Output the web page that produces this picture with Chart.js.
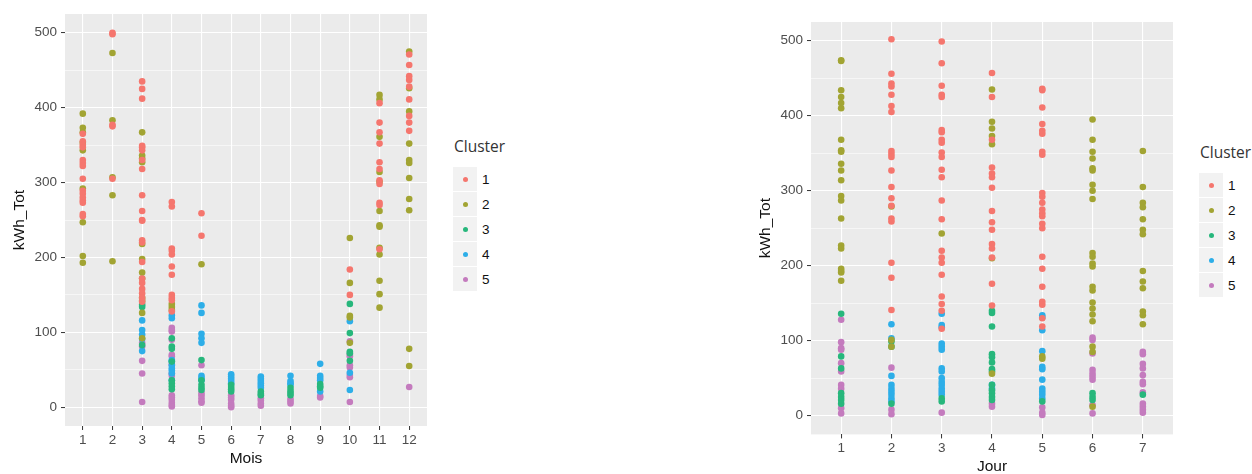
<!DOCTYPE html>
<html lang="fr">
<head>
<meta charset="UTF-8" />
<title>kWh_Tot par Mois et par Jour</title>
<script src="https://cdn.jsdelivr.net/npm/chart.js"></script>
<style>
  html, body { margin: 0; padding: 0; background: #fff; width: 1252px; height: 474px; overflow: hidden; position: relative; }
  canvas { position: absolute; top: 0; }
  #moisChart { left: 0; }
  #jourChart { left: 750px; }
  .legend { position: absolute; font-family: 'Liberation Sans', Arial, sans-serif; }
  .legend .title { font-family: 'Open Sans', sans-serif; font-size: 15.5px; color: #333; margin-bottom: 10px; margin-left: 1px; }
  .legend .row { display: flex; align-items: center; height: 24px; margin-bottom: 1px; }
  .legend .key { width: 24px; height: 24px; background: #f2f2f2; display: flex; align-items: center; justify-content: center; }
  .legend .dot { width: 5px; height: 5px; border-radius: 50%; }
  .legend .lab { font-size: 13.5px; color: #111; margin-left: 5px; }
</style>
</head>
<body>
<canvas id="moisChart" width="440" height="474"></canvas>
<canvas id="jourChart" width="440" height="480"></canvas>
<div class="legend" id="legendMois" style="left:453px; top:135px;"></div>
<div class="legend" id="legendJour" style="left:1199px; top:141px;"></div>
<script>
const clusters = ['1', '2', '3', '4', '5'];
const clusterColors = ['#F5766E', '#A2A433', '#27B77C', '#2DAEE8', '#C47BBE'];

const moisLabels = ['1', '2', '3', '4', '5', '6', '7', '8', '9', '10', '11', '12'];
const jourLabels = ['1', '2', '3', '4', '5', '6', '7'];
const yTicks = [0, 100, 200, 300, 400, 500];

// kWh_Tot par mois, une liste par mois (1..12) pour chaque cluster
const moisCluster1 = [
  [365, 355, 350, 347, 330, 326, 322, 305, 289, 285, 280, 276, 273, 258, 255],
  [500, 498, 377, 375, 305],
  [435, 425, 412, 349, 347, 343, 330, 318, 283, 262, 250, 249, 223, 220, 194, 172, 166, 158, 152, 146, 141],
  [274, 268, 212, 209, 204, 188, 177, 150, 146, 143, 128],
  [259, 229],
  [], [], [], [],
  [184, 150],
  [406, 380, 367, 352, 327, 318, 303, 298, 273, 270, 211],
  [471, 457, 442, 437, 428, 411, 389, 380, 369]
];
const moisCluster2 = [
  [392, 373, 367, 353, 343, 292, 247, 202, 193],
  [473, 383, 307, 283, 195],
  [367, 336, 332, 327, 218, 198, 180, 172, 146, 142, 126, 92],
  [138, 134, 130],
  [191],
  [], [], [], [],
  [226, 166, 122, 120, 86],
  [417, 411, 361, 314, 301, 262, 243, 241, 213, 204, 169, 151, 133],
  [475, 426, 395, 352, 330, 326, 306, 278, 263, 78, 55]
];
const moisCluster3 = [
  [], [],
  [137, 134, 83],
  [92, 81, 78, 61, 36, 32, 28, 24],
  [63, 36, 30, 26, 23],
  [30, 27, 24, 21],
  [21, 18, 16],
  [26, 22, 19, 16],
  [31, 28, 26],
  [138, 99, 74, 72, 62],
  [], []
];
const moisCluster4 = [
  [], [],
  [116, 103, 97, 91, 75],
  [123, 119, 63, 61, 56, 52, 49, 45, 36],
  [136, 126, 98, 92, 86, 42, 39, 36],
  [44, 41, 38, 35, 32],
  [41, 38, 35, 32, 29, 26],
  [42, 35, 32, 30],
  [58, 42, 39, 36, 21],
  [115, 46, 23],
  [], []
];
const moisCluster5 = [
  [], [],
  [86, 81, 62, 45, 7],
  [106, 103, 101, 90, 70, 68, 57, 45, 42, 16, 13, 10, 6, 3, 1],
  [56, 19, 16, 12, 8, 6],
  [16, 13, 10, 5, 2, 0],
  [12, 9, 5, 2],
  [11, 8, 5],
  [15, 13],
  [88, 70, 68, 56, 53, 43, 40, 7],
  [],
  [27]
];

// kWh_Tot par jour de la semaine (1..7) pour chaque cluster
const jourCluster1 = [
  [],
  [502, 456, 443, 439, 428, 413, 405, 353, 349, 345, 327, 305, 290, 280, 263, 259, 204, 184, 141],
  [499, 470, 440, 428, 425, 381, 378, 368, 364, 351, 345, 328, 318, 287, 262, 220, 211, 204, 188, 159, 149, 140, 116],
  [457, 425, 368, 331, 323, 318, 304, 273, 258, 248, 229, 223, 211, 176, 147],
  [436, 434, 411, 389, 380, 376, 352, 348, 297, 292, 284, 275, 270, 266, 256, 250, 212, 196, 172, 152, 148, 130, 119],
  [],
  []
];
const jourCluster2 = [
  [474, 473, 434, 425, 417, 410, 368, 354, 352, 336, 327, 314, 293, 287, 263, 227, 223, 196, 193, 191, 180],
  [279, 101, 92],
  [243],
  [435, 392, 383, 373, 362, 210, 56],
  [79, 76],
  [395, 368, 352, 343, 330, 327, 308, 300, 289, 217, 212, 203, 199, 172, 167, 151, 143, 135, 126, 92, 85, 12],
  [353, 305, 284, 278, 262, 248, 242, 193, 179, 170, 139, 134, 122]
];
const jourCluster3 = [
  [136, 79, 63, 30, 25, 21, 16],
  [99, 92, 16],
  [23, 19],
  [140, 137, 119, 82, 78, 71, 62, 59, 41, 34, 30, 25, 21],
  [19],
  [30, 25, 21],
  [28]
];
const jourCluster4 = [
  [],
  [122, 103, 53, 41, 36, 32, 28, 23, 19],
  [136, 121, 118, 96, 92, 88, 63, 59, 50, 45, 41, 36, 32, 28],
  [41, 36],
  [134, 131, 114, 86, 65, 62, 48, 36, 32, 28, 23],
  [],
  []
];
const jourCluster5 = [
  [128, 98, 90, 88, 70, 59, 41, 36, 10, 3],
  [64, 8, 2],
  [4],
  [16, 12],
  [11, 4, 1],
  [104, 101, 83, 61, 56, 52, 48, 14, 3],
  [85, 82, 69, 63, 54, 45, 42, 31, 16, 12, 8, 4]
];

function toPoints(cols) {
  const pts = [];
  cols.forEach((vals, i) => vals.forEach(v => pts.push({ x: i + 1, y: v })));
  return pts;
}

const panelBg = {
  id: 'panelBg',
  beforeDraw(chart) {
    const { ctx, chartArea: a } = chart;
    ctx.save();
    ctx.fillStyle = '#EBEBEB';
    ctx.fillRect(a.left, a.top, a.right - a.left, a.bottom - a.top);
    ctx.restore();
  }
};

const tickFont = { family: "'Liberation Sans', Arial, sans-serif", size: 13.5 };
const titleFont = { family: "'Liberation Sans', Arial, sans-serif", size: 15.5 };

function makeChart(id, labels, series, xTitle, box) {
  const datasets = series.map((cols, i) => ({
    label: clusters[i],
    data: toPoints(cols),
    backgroundColor: clusterColors[i],
    borderWidth: 0,
    pointRadius: 3.3,
    pointHoverRadius: 3.3
  }));

  return new Chart(document.getElementById(id), {
    type: 'scatter',
    data: { datasets },
    plugins: [panelBg],
    options: {
      responsive: false,
      animation: false,
      devicePixelRatio: 1,
      events: [],
      layout: { padding: { top: box.top, right: box.right, left: 0, bottom: 0 } },
      plugins: { legend: { display: false }, tooltip: { enabled: false } },
      scales: {
        x: {
          type: 'linear',
          min: 0.4,
          max: labels.length + 0.6,
          afterBuildTicks: s => { s.ticks = labels.map((l, i) => ({ value: i + 1 })); },
          afterFit: s => { s.height = box.xh; },
          border: { display: false },
          grid: { color: '#ffffff', lineWidth: 1.1, tickLength: 4, tickColor: '#333333', tickWidth: 1 },
          ticks: {
            callback: (v) => labels[Math.round(v) - 1],
            color: '#4D4D4D', font: tickFont, padding: 2, maxRotation: 0, autoSkip: false
          },
          title: { display: true, text: xTitle, color: '#111', font: titleFont, padding: { top: 0, bottom: box.xtp } }
        },
        y: {
          min: -25,
          max: 525,
          afterBuildTicks: s => {
            const t = [];
            for (let v = 0; v <= 500; v += 50) t.push({ value: v });
            s.ticks = t;
          },
          afterFit: s => { s.width = box.yw; },
          border: { display: false },
          grid: {
            color: '#ffffff',
            lineWidth: c => (c.tick && c.tick.value % 100 === 0 ? 1.1 : 0.55),
            tickLength: 4,
            tickColor: c => (c.tick && c.tick.value % 100 === 0 ? '#333333' : 'rgba(0,0,0,0)'),
            tickWidth: 1
          },
          ticks: {
            callback: (v) => (yTicks.includes(v) ? String(v) : ''),
            color: '#4D4D4D', font: tickFont, padding: 4
          },
          title: { display: true, text: 'kWh_Tot', color: '#111', font: titleFont, padding: { top: box.ytp, bottom: 0 } }
        }
      }
    }
  });
}

makeChart('moisChart', moisLabels,
  [moisCluster1, moisCluster2, moisCluster3, moisCluster4, moisCluster5],
  'Mois', { top: 14, right: 13, yw: 65, xh: 48, ytp: 10.5, xtp: 5.5 });

makeChart('jourChart', jourLabels,
  [jourCluster1, jourCluster2, jourCluster3, jourCluster4, jourCluster5],
  'Jour', { top: 22, right: 17, yw: 61, xh: 45.6, ytp: 6.5, xtp: 3.5 });

function buildLegend(id) {
  const el = document.getElementById(id);
  el.innerHTML = '<div class="title">Cluster</div>' + clusters.map((c, i) =>
    `<div class="row"><div class="key"><div class="dot" style="background:${clusterColors[i]}"></div></div><span class="lab">${c}</span></div>`
  ).join('');
}
buildLegend('legendMois');
buildLegend('legendJour');
</script>
</body>
</html>
